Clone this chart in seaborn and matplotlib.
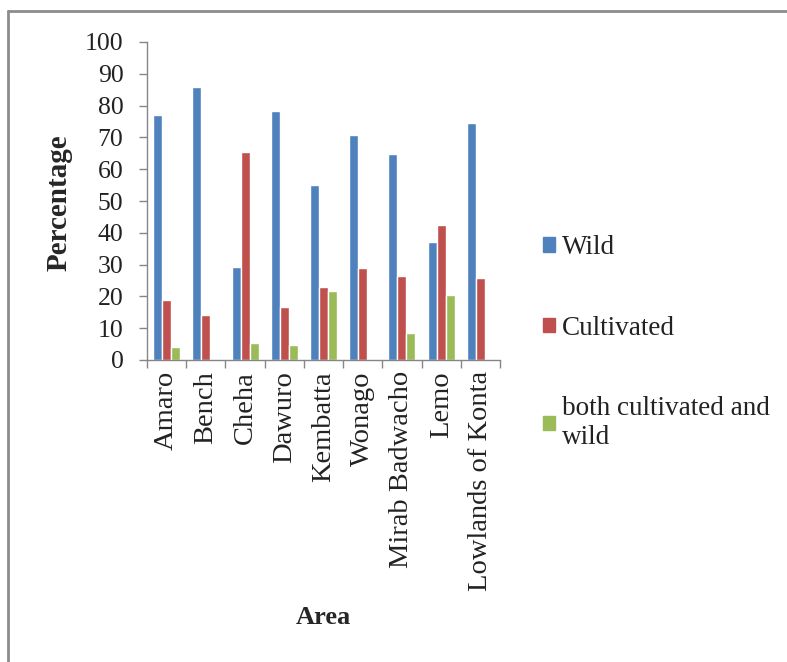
import numpy as np
import pandas as pd
import matplotlib
matplotlib.use("Agg")
import matplotlib.pyplot as plt
import seaborn as sns
from matplotlib.lines import Line2D

# Values
areas = ['Amaro', 'Bench', 'Cheha', 'Dawuro', 'Kembatta', 'Wonago',
         'Mirab Badwacho', 'Lemo', 'Lowlands of Konta']
wild = [77.0, 85.9, 29.3, 78.4, 55.0, 70.8, 64.9, 37.0, 74.5]
cultivated = [18.9, 14.1, 65.3, 16.8, 23.0, 29.0, 26.4, 42.5, 25.7]
both = [4.0, 0, 5.2, 4.7, 21.7, 0, 8.6, 20.4, 0]
series = ['Wild', 'Cultivated', 'both cultivated and\nwild']
colors = ['#4F81BD', '#C0504D', '#9BBB59']

df = pd.DataFrame({'Area': areas, series[0]: wild,
                   series[1]: cultivated, series[2]: both})
long = df.melt(id_vars='Area', var_name='Type', value_name='Percentage')

sns.set_style('white')
plt.rcParams['font.family'] = ['Liberation Serif', 'DejaVu Serif']

fig = plt.figure(figsize=(7.87, 6.62), dpi=100)
ax = fig.add_axes([147 / 787, 1 - 360 / 662, 353 / 787, 318 / 662])

sns.barplot(data=long, x='Area', y='Percentage', hue='Type',
            hue_order=series, palette=colors, order=areas,
            width=0.69, gap=0, saturation=1, ax=ax, legend=False)

ax.set_ylim(0, 100)
ax.set_xlim(-0.5, len(areas) - 0.5)
ax.set_yticks(range(0, 101, 10))
ax.tick_params(axis='y', labelsize=18.5, length=5.5, width=1, color='#868686',
               direction='out', left=True, pad=11.5, labelcolor='#222222')
ax.set_xticks(range(len(areas)))
ax.set_xticklabels(areas, rotation=90, fontsize=20.5, color='#222222')
ax.tick_params(axis='x', which='major', length=0, pad=8)
ax.set_xticks(np.arange(-0.5, len(areas), 1), minor=True)
ax.tick_params(axis='x', which='minor', length=6, width=1, color='#868686',
               direction='out', bottom=True)

for s in ['top', 'right']:
    ax.spines[s].set_visible(False)
for s in ['left', 'bottom']:
    ax.spines[s].set_color('#868686')
    ax.spines[s].set_linewidth(1)

ax.set_ylabel('')
ax.set_xlabel('')
fig.text(59 / 787, 1 - 203 / 662, 'Percentage', fontsize=21, fontweight='bold',
         rotation=90, ha='center', va='center')
fig.text(323 / 787, 1 - 617 / 662, 'Area', fontsize=19, fontweight='bold',
         ha='center', va='center')

handles = [plt.Rectangle((0, 0), 1, 1, color=c) for c in colors]
leg = fig.legend(handles, series, loc='upper left',
                 bbox_to_anchor=(543 / 787, 1 - 235 / 662), frameon=False,
                 fontsize=19.5, handlelength=0.45, handleheight=0.45,
                 handletextpad=0.25, labelspacing=2.05, borderaxespad=0,
                 borderpad=0)
for t in leg.get_texts():
    t.set_color('#222222')

# gray frame at top and left edges
fig.add_artist(Line2D([8 / 787, 1], [1 - 11 / 662, 1 - 11 / 662],
                      transform=fig.transFigure, color='#8c8c8c', lw=2))
fig.add_artist(Line2D([8 / 787, 8 / 787], [0, 1 - 11 / 662],
                      transform=fig.transFigure, color='#8c8c8c', lw=2))

fig.savefig('out.png', dpi=100)
